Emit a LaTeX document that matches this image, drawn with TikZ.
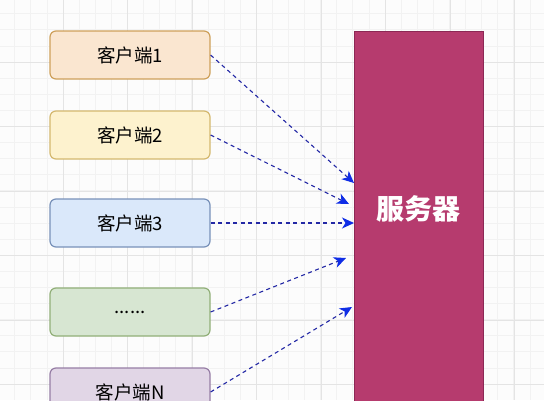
\documentclass[tikz,border=0pt]{standalone}
\usepackage{fontspec}
\newfontfamily\cjk{Noto Sans CJK SC}
\usetikzlibrary{arrows.meta}
\definecolor{gridminor}{RGB}{242,242,242}
\definecolor{gridmajor}{RGB}{228,228,228}
\definecolor{orfill}{RGB}{250,230,208}
\definecolor{ordraw}{RGB}{206,160,90}
\definecolor{yefill}{RGB}{253,242,206}
\definecolor{yedraw}{RGB}{212,184,110}
\definecolor{blfill}{RGB}{218,232,250}
\definecolor{bldraw}{RGB}{120,145,185}
\definecolor{grfill}{RGB}{215,230,210}
\definecolor{grdraw}{RGB}{145,175,120}
\definecolor{pufill}{RGB}{225,214,230}
\definecolor{pudraw}{RGB}{150,125,165}
\definecolor{srvfill}{RGB}{182,59,110}
\definecolor{srvdraw}{RGB}{140,40,85}
\definecolor{linkline}{RGB}{35,40,165}
\definecolor{linktip}{RGB}{15,45,230}

\begin{document}
\begin{tikzpicture}[x=1pt,y=-1pt,
  client/.style={draw, line width=1.2pt, rounded corners=6pt,
    minimum width=160pt, minimum height=48pt, inner sep=0pt,
    font=\cjk\fontsize{18.5}{20}\selectfont},
  server/.style={draw=srvdraw, fill=srvfill, line width=1pt,
    minimum width=129pt, minimum height=410pt, inner sep=0pt},
  link/.style={draw=linkline, line width=1.1pt, dash pattern=on 4pt off 3.5pt,
    -{Stealth[length=12pt, width=11pt, inset=3.5pt, color=linktip]}}]
\useasboundingbox (0,0) rectangle (544,400);
\clip (0,0) rectangle (544,400);
\fill[white!99!black] (0,0) rectangle (544,400);

% grid
\foreach \x in {-1.5,14.6,...,544}
  \draw[gridminor, line width=0.6pt] (\x,0) -- (\x,400);
\foreach \y in {-2.5,13.6,...,400}
  \draw[gridminor, line width=0.6pt] (0,\y) -- (544,\y);
\foreach \x in {-1.5,63,...,544}
  \draw[gridmajor, line width=0.8pt] (\x,0) -- (\x,400);
\foreach \y in {-2.5,62,...,400}
  \draw[gridmajor, line width=0.8pt] (0,\y) -- (544,\y);

% clients
\node[client, draw=ordraw, fill=orfill] (c1) at (130,55) {客户端1};
\node[client, draw=yedraw, fill=yefill] (c2) at (130,135) {客户端2};
\node[client, draw=bldraw, fill=blfill] (c3) at (130,223) {客户端3};
\node[client, draw=grdraw, fill=grfill] (c4) at (130,312) {......};
\node[client, draw=pudraw, fill=pufill] (cn) at (130,392) {客户端N};

% server
\node[server] (srv) at (418.5,236) {};
\node[text=white, font=\cjk\bfseries\fontsize{28}{30}\selectfont] (srvlabel) at (418.5,209) {服务器};

% arrow ends
\coordinate (t1) at (354,183);
\coordinate (t2) at (349,204);
\coordinate (t3) at (354,223);
\coordinate (t4) at (346,258);
\coordinate (tn) at (352,307);

\draw[link] (c1.east) -- (t1);
\draw[link] (c2.east) -- (t2);
\draw[link] (c3.east) -- (t3);
\draw[link] (c4.east) -- (t4);
\draw[link] (cn.east) -- (tn);
\end{tikzpicture}
\end{document}
